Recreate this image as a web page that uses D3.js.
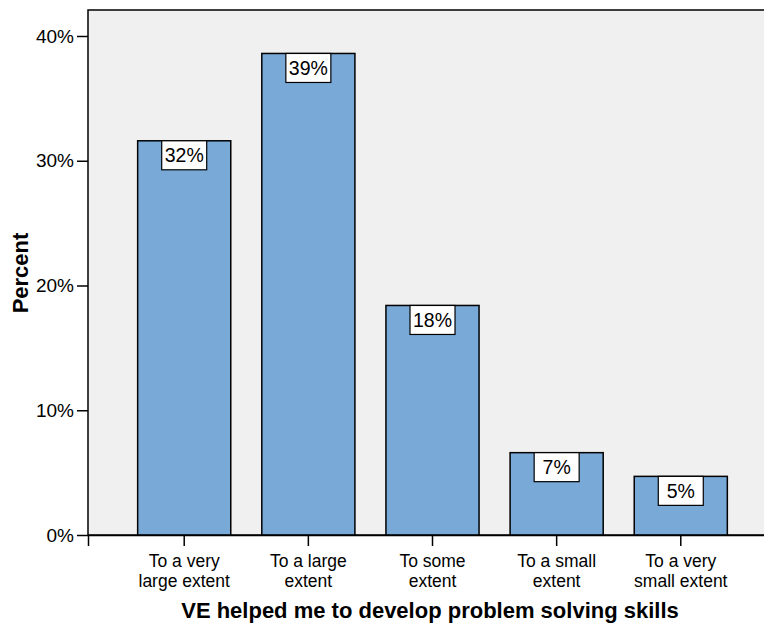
<!DOCTYPE html>
<html><head><meta charset="utf-8">
<script src="https://cdn.jsdelivr.net/npm/d3@7"></script>
<style>body{margin:0;background:#fff}svg{display:block}text{font-family:"Liberation Sans",Arial,sans-serif;fill:#000}</style>
</head><body>
<svg id="c" width="764" height="624"></svg>
<script>
const categories = [["To a very","large extent"],["To a large","extent"],["To some","extent"],["To a small","extent"],["To a very","small extent"]];
const values = [31.6, 38.6, 18.4, 6.6, 4.7];
const barLabels = ["32%","39%","18%","7%","5%"];
const yTicks = [0,10,20,30,40];
const xTitle = "VE helped me to develop problem solving skills";
const yTitle = "Percent";

const svg = d3.select("#c");
const pLeft = 88, pTop = 10, pBottom = 535, pRight = 777;
const keys = categories.map((d,i)=>i);
const x = d3.scaleBand().domain(keys).range([pLeft,pRight]).paddingInner(0.25).paddingOuter(0.4);
const y = d3.scaleLinear().domain([0,40]).range([pBottom,36]);

svg.append("rect").attr("x",pLeft).attr("y",pTop).attr("width",pRight-pLeft).attr("height",pBottom-pTop)
  .attr("fill","#f0f0f0").attr("stroke","#000").attr("stroke-width",1.5);

svg.selectAll("rect.bar").data(values).join("rect").attr("class","bar")
  .attr("x",(d,i)=>x(i)).attr("y",d=>y(d)).attr("width",x.bandwidth()).attr("height",d=>pBottom-y(d))
  .attr("fill","#79a9d7").attr("stroke","#000").attr("stroke-width",1.5);

const bw=45, bh=29;
const lg = svg.selectAll("g.lab").data(values).join("g").attr("class","lab")
  .attr("transform",(d,i)=>`translate(${x(i)+x.bandwidth()/2},${y(d)})`);
lg.append("rect").attr("x",-bw/2).attr("y",0).attr("width",bw).attr("height",bh)
  .attr("fill","#fff").attr("stroke","#000").attr("stroke-width",1.2);
lg.append("text").attr("text-anchor","middle").attr("y",21.5).attr("font-size",19.5)
  .text((d,i)=>barLabels[i]);

// y axis
const ya = svg.append("g").attr("transform",`translate(${pLeft},0)`)
  .call(d3.axisLeft(y).tickValues(yTicks).tickFormat(d=>d+"%").tickSize(11).tickPadding(3));
ya.select(".domain").remove();
ya.selectAll("line").attr("stroke","#000").attr("stroke-width",1.5);
ya.selectAll("text").attr("font-size",19).attr("font-family","Liberation Sans, Arial, sans-serif").attr("fill","#000");

// x axis
const xa = svg.append("g").attr("transform",`translate(0,${pBottom})`)
  .call(d3.axisBottom(x).tickSize(11).tickFormat(""));
xa.select(".domain").attr("stroke","#000").attr("stroke-width",1.5);
xa.selectAll("line").attr("stroke","#000").attr("stroke-width",1.5);
xa.selectAll(".tick").each(function(d){
  const g = d3.select(this);
  categories[d].forEach((ln,j)=>g.append("text").attr("text-anchor","middle").attr("font-size",17.5)
    .attr("fill","#000").attr("font-family","Liberation Sans, Arial, sans-serif")
    .attr("x",0).attr("y",32+j*20).text(ln));
});

svg.append("text").attr("x",430).attr("y",618).attr("text-anchor","middle")
  .attr("font-size",22).attr("font-weight","bold").text(xTitle);
svg.append("text").attr("transform","translate(28,273) rotate(-90)").attr("text-anchor","middle")
  .attr("font-size",22).attr("font-weight","bold").text(yTitle);
</script>
</body></html>
